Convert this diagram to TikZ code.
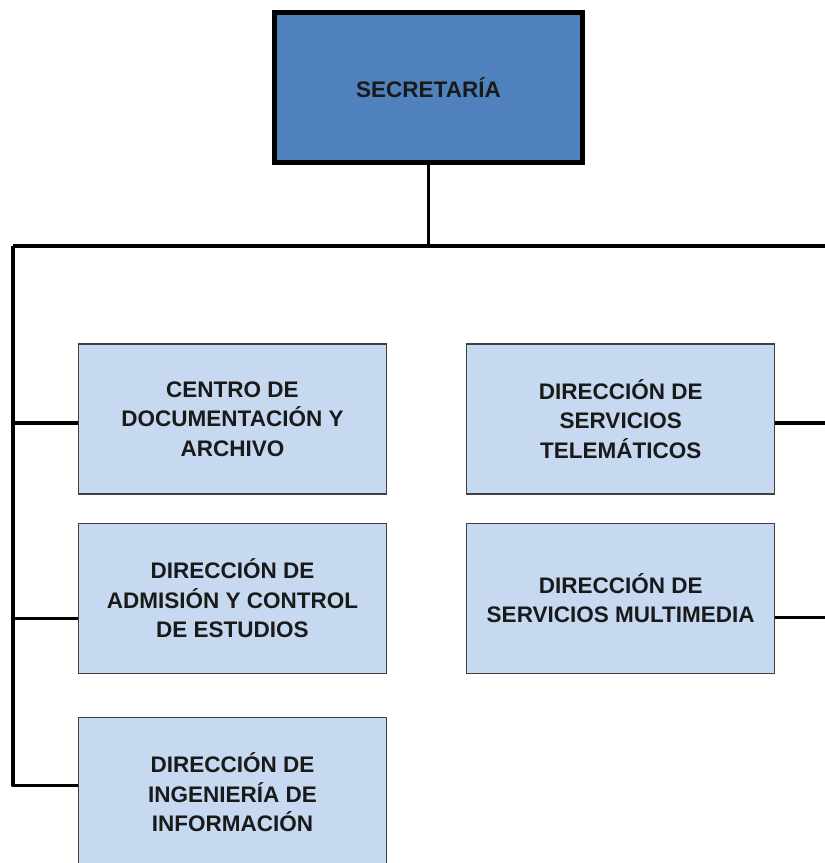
\documentclass[tikz,border=0pt]{standalone}
\usepackage{fontspec}
\setmainfont{Liberation Sans}
\usetikzlibrary{positioning}

\definecolor{headblue}{HTML}{4F81BD}
\definecolor{unitblue}{HTML}{C6D9F1}
\definecolor{inkgray}{HTML}{1A1A1A}

\tikzset{
    unit/.style={draw=black!75, line width=1.2pt, fill=unitblue, text=inkgray,
        minimum width=308pt, minimum height=150pt, inner sep=0pt, align=center,
        font=\bfseries\fontsize{22.5}{29.5}\selectfont},
    head/.style={unit, draw=black, line width=5pt, fill=headblue,
        minimum width=308pt, minimum height=150pt},
    link/.style={line width=3.2pt, line join=round}
}

\begin{document}
\begin{tikzpicture}[x=1pt, y=-1pt]
    \useasboundingbox (0,0) rectangle (825,863);
    \clip (0,0) rectangle (825,863);

    \node[head] (secr) at (428.5,87.5) {SECRETARÍA};

    \node[unit] (cda) at (232.5,419) {CENTRO DE\\DOCUMENTACIÓN Y\\ARCHIVO};
    \node[unit, below=28pt of cda] (dace) {DIRECCIÓN DE\\ADMISIÓN Y CONTROL\\DE ESTUDIOS};
    \node[unit, below=43pt of dace] (dii) {DIRECCIÓN DE\\INGENIERÍA DE\\INFORMACIÓN};
    \node[unit, right=79pt of cda] (dst) {DIRECCIÓN DE\\SERVICIOS\\TELEMÁTICOS};
    \node[unit, right=79pt of dace] (dsm) {DIRECCIÓN DE\\SERVICIOS MULTIMEDIA};

    % connector heights on the boxes
    \coordinate (cda-in) at ([yshift=-4pt]cda.west);
    \coordinate (dace-in) at ([yshift=-20pt]dace.west);
    \coordinate (dii-in) at ([yshift=-69pt]dii.north west);
    \coordinate (dst-out) at ([yshift=-4pt]dst.east);
    \coordinate (dsm-out) at ([yshift=-19pt]dsm.east);

    % bus lines
    \coordinate (bus) at (secr.south |- 0,246);
    \coordinate (busl) at (13,246);
    \coordinate (busr) at (830,246);
    \draw[link] (secr.south) -- (bus);
    \draw[link] (busl) -- (busr);
    \draw[link] (busl) |- (dii-in);
    \draw[link] (busl |- cda-in) -- (cda-in);
    \draw[link] (busl |- dace-in) -- (dace-in);
    \draw[link] (dst-out) -- (busr |- dst-out);
    \draw[link] (dsm-out) -- (busr |- dsm-out);
\end{tikzpicture}
\end{document}
